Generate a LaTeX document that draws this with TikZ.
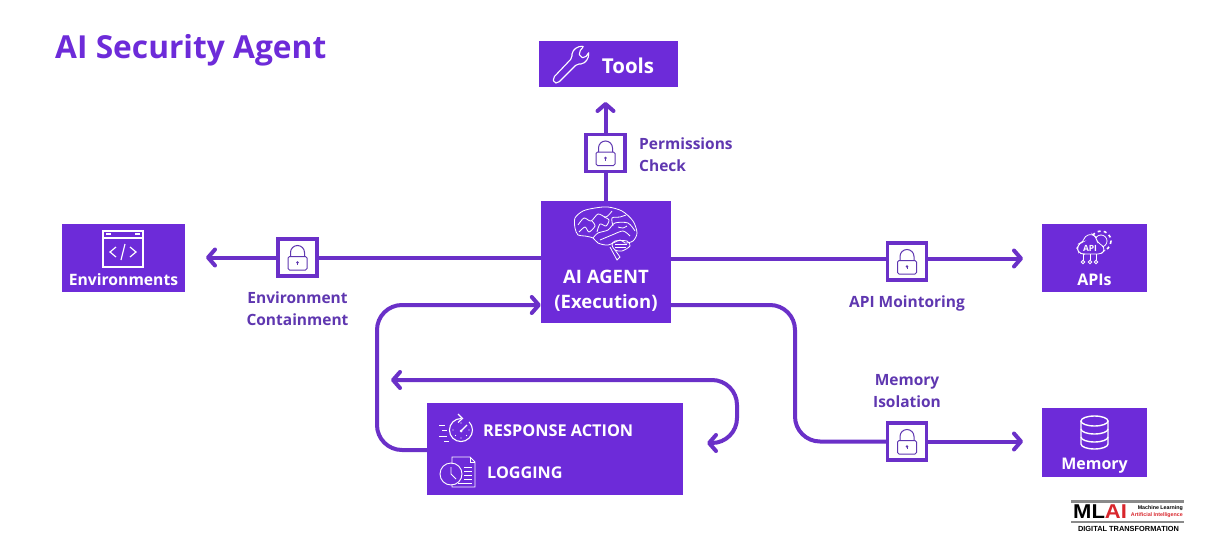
\documentclass[tikz,border=0pt]{standalone}
\usepackage{fontspec}
\setmainfont{Open Sans}
\newfontfamily\logofont{Liberation Sans}
\usetikzlibrary{arrows.meta,positioning}
\definecolor{agentpurple}{HTML}{6D2BD9}
\definecolor{linepurple}{HTML}{6A30C8}
\definecolor{labelpurple}{HTML}{5F37B0}
\definecolor{logored}{HTML}{D8262C}
\definecolor{logogray}{HTML}{8A8A8A}

\tikzset{
	padlock/.pic={
		\draw [labelpurple, line width=1pt, rounded corners=1.5] (-9.5,-1) rectangle (9.5,12.5);
		\draw [labelpurple, line width=1pt] (-7,-1) -- (-7,-5) arc [start angle=180, end angle=360, radius=7] -- (7,-1);
		\fill [labelpurple] (0,5) circle (1.4);
		\draw [labelpurple, line width=1pt] (0,5) -- (0,7.5);
	},
	wrench/.pic={
		\draw [white, line width=1.1pt, rounded corners=2pt]
			(-18,13) -- (1,-7) -- (1,-13) -- (6,-18) -- (13,-19) -- (8,-13) -- (9,-8) -- (14,-7)
			-- (18,-13) -- (17,-6) -- (12,-1) -- (6,-1) -- (-13,18) -- (-17,18) -- cycle;
	},
	windowicon/.pic={
		\draw [white, line width=1.2pt] (-20,-18) rectangle (20,18);
		\draw [white, line width=1.2pt] (-20,-11) -- (20,-11);
		\draw [white, line width=2pt] (-17,-15) -- (-12,-15) (12,-15) -- (17,-15);
		\draw [white, line width=1.2pt] (-7,-2) -- (-13,3) -- (-7,8) (7,-2) -- (13,3) -- (7,8) (2,-5) -- (-2,11);
	},
	apiicon/.pic={
		\draw [white, line width=.8pt] (7,-5) circle (6);
		\draw [white, line width=1.6pt, dash pattern=on 3pt off 3.2pt] (7,-5) circle (10);
		\draw [white, line width=.8pt, fill=agentpurple, rounded corners=3pt]
			(-11,8) -- (-15,7) -- (-17,2) -- (-14,-3) -- (-11,-4) -- (-9,-10) -- (-2,-12) -- (2,-9)
			-- (3,-4) -- (8,-1) -- (11,4) -- (7,8) -- cycle;
		\node [text=white, font=\bfseries\fontsize{8.5}{8.5}\selectfont, inner sep=0pt] (apiword) at (-4,2) {API};
		\draw [white, line width=.8pt] (-11,8) -- (-11,14) (-4,8) -- (-4,14) (2,8) -- (2,14);
		\draw [white, line width=.8pt] (-11,16) circle (1.8) (-4,16) circle (1.8) (2,16) circle (1.8);
	},
	dbicon/.pic={
		\draw [white, line width=1.4pt] (0,-12) ellipse [x radius=13.5, y radius=5];
		\draw [white, line width=1.4pt] (-13.5,-12) -- (-13.5,11) arc [start angle=180, end angle=0, x radius=13.5, y radius=5] -- (13.5,-12);
		\draw [white, line width=1.4pt] (-13.5,-4) arc [start angle=180, end angle=0, x radius=13.5, y radius=5];
		\draw [white, line width=1.4pt] (-13.5,4) arc [start angle=180, end angle=0, x radius=13.5, y radius=5];
	},
	timericon/.pic={
		\draw [white, line width=1.1pt] (13.1,-8.1) arc [start angle=-45, end angle=270, radius=11.5];
		\draw [white, line width=1.1pt] (2,-16) -- (6.5,-11.5) -- (2,-7.5);
		\draw [white, line width=1.1pt] (5,1) -- (11,-5);
		\fill [white] (5,1) circle (1.5);
		\fill [white] (5,-7) circle (.7) (5,8) circle (.7) (-3,0) circle (.7) (13,0) circle (.7) (-.5,5.5) circle (.7) (10.5,5.5) circle (.7);
		\draw [white, line width=.9pt] (-17,-5) -- (-11,-5) (-14,0) -- (-9,0) (-17,6) -- (-9,6) (-12,11) -- (-7,11);
	},
	logicon/.pic={
		\draw [white, line width=.8pt] (1,-8) -- (1,-15) -- (19,-15) -- (24,-10) -- (24,15) -- (1,15) -- (1,12);
		\draw [white, line width=.8pt] (19,-15) -- (19,-10) -- (24,-10);
		\draw [white, line width=.9pt] (0,2) circle (11);
		\draw [white, line width=.8pt] (0,-5) -- (0,2) -- (5,7);
		\draw [white, line width=.8pt] (13,-5) -- (21,-5) (13,-1) -- (21,-1) (13,3) -- (21,3) (13,7) -- (21,7) (7,11) -- (21,11);
	},
	brainicon/.pic={
		\draw [white, line width=.8pt] plot [smooth cycle] coordinates {(-31,-7) (-31,-17) (-23,-24) (-11,-27) (2,-28) (16,-24) (27,-14) (31,-2) (27,6) (19,8) (14,5) (2,10) (-8,8) (-13,3) (-21,1) (-28,0)};
		% folds of the brain
		\draw [white, line width=.8pt] plot [smooth] coordinates {(-13,3) (-8,-2) (2,-5) (9,-12) (22,-12) (29,-4)};
		\draw [white, line width=.8pt] plot [smooth] coordinates {(-6,5) (6,0) (17,-4) (24,1)};
		\draw [white, line width=.8pt] plot [smooth] coordinates {(-28,-10) (-22,-17) (-15,-14) (-8,-21) (0,-18) (6,-24)};
		\draw [white, line width=.8pt] plot [smooth] coordinates {(-27,-3) (-21,-8) (-17,-3) (-11,-9) (-14,-14)};
		\draw [white, line width=.8pt] plot [smooth] coordinates {(-9,-3) (-6,-11) (0,-9) (3,-15) (-2,-18)};
		\draw [white, line width=.8pt] plot [smooth] coordinates {(7,-9) (6,-17) (14,-18) (20,-20)};
		\draw [white, line width=.8pt] plot [smooth] coordinates {(12,-8) (17,-7) (21,-9)};
		% the back part and the stem
		\draw [white, line width=.8pt] plot [smooth cycle] coordinates {(6,10) (9,6) (21,6) (24,11) (16,16) (9,15)};
		\draw [white, line width=.5pt] (9,9) -- (21,9) (9,12) -- (20,12);
		\draw [white, line width=.8pt] (4,12) -- (11,25) -- (14,22) -- (9,15);
	}
}

\begin{document}
\begin{tikzpicture}[
    x=1pt,
    y=-1pt,
    node distance=8pt,
    >={Straight Barb[length=7pt,width=16pt,round]},
    font=\bfseries,
    blockbox/.style={
		rectangle,
		fill=agentpurple,
		inner sep=0pt
	},
	blocktext/.style={
		text=white,
		inner sep=0pt,
		align=center
	},
	lockbox/.style={
		rectangle,
		draw=linepurple,
		line width=3.5pt,
		fill=white,
		minimum width=39pt,
		minimum height=37pt,
		inner sep=0pt
	},
	note/.style={
		text=labelpurple,
		font=\bfseries\fontsize{15.5}{22}\selectfont,
		inner sep=0pt,
		align=center
	},
	link/.style={
		draw=linepurple,
		line width=4pt,
		rounded corners=25pt
	}
  ]
    \useasboundingbox (0,0) rectangle (1205,551);

    % the blocks
  \node [text=agentpurple, inner sep=0pt, anchor=west, font=\bfseries\fontsize{31.7}{31}\selectfont] (title) at (55,50) {AI Security Agent};

  \node [blockbox, minimum width=130pt, minimum height=122pt] (agent) at (606,262) {};
  \node [blockbox, minimum width=139pt, minimum height=46pt] (tools) at (608.5,64) {};
  \node [blockbox, minimum width=123pt, minimum height=68pt] (environments) at (123.5,258) {};
  \node [blockbox, minimum width=105pt, minimum height=68pt] (apis) at (1094.5,258) {};
  \node [blockbox, minimum width=105pt, minimum height=69pt] (memory) at (1094.5,442.5) {};
  \node [blockbox, minimum width=256pt, minimum height=92pt] (response) at (555,449) {};

    % the texts in the blocks
  \node [blocktext, font=\bfseries\fontsize{18.5}{25}\selectfont] (agenttext) at (606,290.5) {AI AGENT\\(Execution)};
  \node [blocktext, font=\bfseries\fontsize{20.5}{20}\selectfont] (toolstext) at (628,66) {Tools};
  \node [blocktext, font=\bfseries\fontsize{15.7}{16}\selectfont] (environmentstext) at (123.5,280) {Environments};
  \node [blocktext, font=\bfseries\fontsize{16}{16}\selectfont] (apistext) at (1094.5,280) {APIs};
  \node [blocktext, font=\bfseries\fontsize{16}{16}\selectfont] (memorytext) at (1094.5,465.5) {Memory};
  \node [blocktext, anchor=west, font=\bfseries\fontsize{16.3}{16}\selectfont] (responsetext) at (483,431) {RESPONSE ACTION};
  \node [blocktext, anchor=west, font=\bfseries\fontsize{16.2}{16}\selectfont] (loggingtext) at (487,473) {LOGGING};

    % the locks and their notes
  \node [lockbox] (lockperm) at (605.5,153) {};
  \node [lockbox] (lockenv) at (297.5,257.5) {};
  \node [lockbox] (lockapi) at (907,261.5) {};
  \node [lockbox] (lockmem) at (907,441.5) {};

  \node [note, align=left, anchor=west] (notePerm) at (639,155) {Permissions\\Check};
  \node [note, below=14pt of lockenv] (noteEnv) {Environment\\Containment};
  \node [note, below=14pt of lockapi] (noteApi) {API Mointoring};
  \node [note, above=13pt of lockmem] (noteMem) {Memory\\Isolation};

    % free ends of the connectors
  \coordinate (tipTools) at (605.5,102);
  \coordinate (tipEnv) at (206,257.5);
  \coordinate (tipApi) at (1023,258.5);
  \coordinate (tipMem) at (1023,441.5);
  \coordinate (tipLoopA) at (391,380);
  \coordinate (tipLoopB) at (707,443);

    % the connectors
  \draw [link] (agent.north -| lockperm) -- (lockperm);
  \draw [link,->] (lockperm) -- (tipTools);
  \draw [link] (agent.west |- lockenv) -- (lockenv);
  \draw [link,->] (lockenv) -- (tipEnv);
  \draw [link] (agent.east |- tipApi) -- (lockapi.west |- tipApi);
  \draw [link,->] (lockapi.east |- tipApi) -- (tipApi);
  \draw [link] (agent.east |- 0,305) -| (795,441.5) -- (lockmem);
  \draw [link,->] (lockmem) -- (tipMem);
  \draw [link,->] (response.west |- 0,450) -| (377,305) -- (agent.west |- 0,305);
  \draw [link,<->] (tipLoopA) -| (737,443) -- (tipLoopB);

  \pic at (lockperm) {padlock};
  \pic at (lockenv) {padlock};
  \pic at (lockapi) {padlock};
  \pic at (lockmem) {padlock};

    % the icons
  \pic at (606,235) {brainicon};
  \pic at (571,65) {wrench};
  \pic at (123,249) {windowicon};
  \pic at (1094,246) {apiicon};
  \pic at (1094.5,433) {dbicon};
  \pic at (456,430) {timericon};
  \pic at (451,472) {logicon};

    % the logo
  \node [fill=logogray, minimum width=113pt, minimum height=3pt, inner sep=0pt] (logotop) at (1127.5,501.5) {};
  \node [fill=logogray, minimum width=113pt, minimum height=2pt, inner sep=0pt] (logobottom) at (1127.5,522) {};
  \node [inner sep=0pt, anchor=west, xscale=1.1, font=\logofont\bfseries\fontsize{20}{20}\selectfont] (logoname) at (1073,512) {ML\textcolor{logored}{AI}};
  \node [inner sep=0pt, anchor=east, font=\logofont\bfseries\fontsize{5.3}{5}\selectfont] (logoml) at (1183,508) {Machine Learning};
  \node [inner sep=0pt, anchor=east, text=logored, font=\logofont\bfseries\fontsize{5.3}{5}\selectfont] (logoai) at (1183,515) {Artificial Intelligence};
  \node [inner sep=0pt, font=\logofont\bfseries\fontsize{7.4}{7}\selectfont] (logodt) at (1128.5,529) {DIGITAL TRANSFORMATION};
\end{tikzpicture}
\end{document}
